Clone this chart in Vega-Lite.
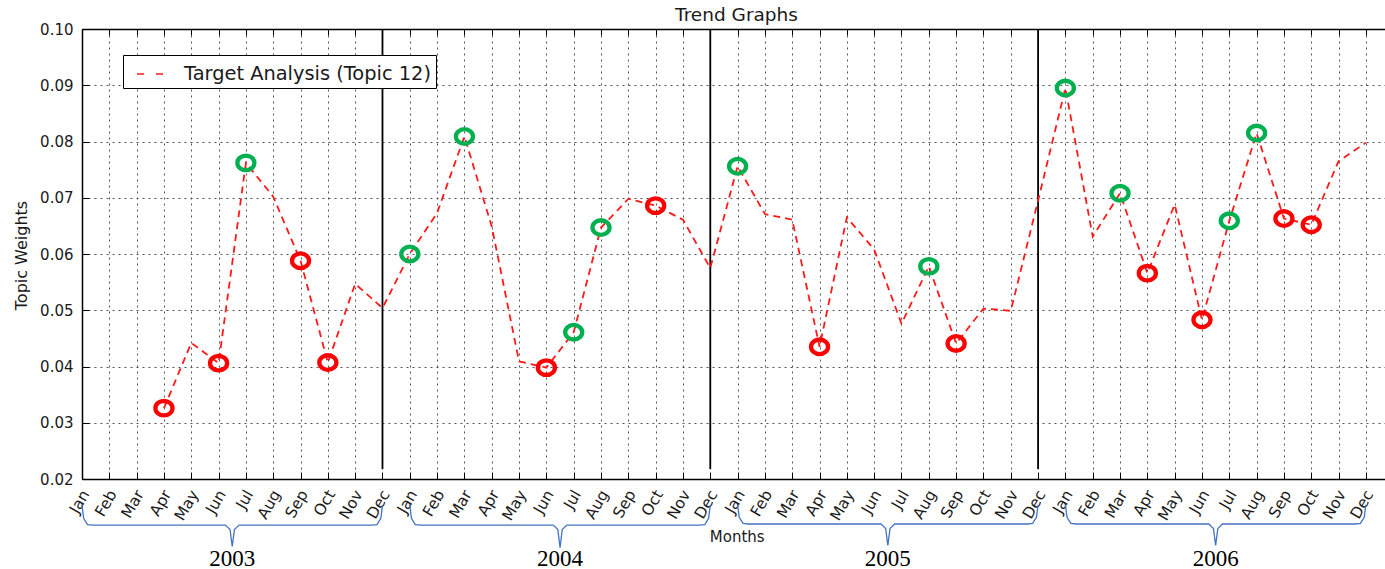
{
  "$schema": "https://vega.github.io/schema/vega-lite/v6.json",
  "width": 1303,
  "height": 450,
  "autosize": {"type": "none"},
  "padding": {"left": 82, "top": 29, "right": 0, "bottom": 90},
  "background": "white",
  "title": {"text": "Trend Graphs", "fontSize": 18.5, "font": "DejaVu Sans", "fontWeight": "normal", "color": "#1a1a1a", "offset": -21, "baseline": "bottom", "anchor": "middle", "frame": "group", "dx": 3},
  "config": {"view": {"stroke": null}, "font": "DejaVu Sans"},
  "datasets": {
    "trend": [
      {"i": 3, "month": "Apr", "year": 2003, "weight": 0.0326, "ring": "red"},
      {"i": 4, "month": "May", "year": 2003, "weight": 0.0442, "ring": "none"},
      {"i": 5, "month": "Jun", "year": 2003, "weight": 0.0406, "ring": "red"},
      {"i": 6, "month": "Jul", "year": 2003, "weight": 0.0762, "ring": "green"},
      {"i": 7, "month": "Aug", "year": 2003, "weight": 0.0702, "ring": "none"},
      {"i": 8, "month": "Sep", "year": 2003, "weight": 0.0588, "ring": "red"},
      {"i": 9, "month": "Oct", "year": 2003, "weight": 0.0407, "ring": "red"},
      {"i": 10, "month": "Nov", "year": 2003, "weight": 0.0547, "ring": "none"},
      {"i": 11, "month": "Dec", "year": 2003, "weight": 0.0504, "ring": "none"},
      {"i": 12, "month": "Jan", "year": 2004, "weight": 0.0600, "ring": "green"},
      {"i": 13, "month": "Feb", "year": 2004, "weight": 0.0673, "ring": "none"},
      {"i": 14, "month": "Mar", "year": 2004, "weight": 0.0809, "ring": "green"},
      {"i": 15, "month": "Apr", "year": 2004, "weight": 0.0649, "ring": "none"},
      {"i": 16, "month": "May", "year": 2004, "weight": 0.0409, "ring": "none"},
      {"i": 17, "month": "Jun", "year": 2004, "weight": 0.0398, "ring": "red"},
      {"i": 18, "month": "Jul", "year": 2004, "weight": 0.0461, "ring": "green"},
      {"i": 19, "month": "Aug", "year": 2004, "weight": 0.0647, "ring": "green"},
      {"i": 20, "month": "Sep", "year": 2004, "weight": 0.0698, "ring": "none"},
      {"i": 21, "month": "Oct", "year": 2004, "weight": 0.0686, "ring": "red"},
      {"i": 22, "month": "Nov", "year": 2004, "weight": 0.0661, "ring": "none"},
      {"i": 23, "month": "Dec", "year": 2004, "weight": 0.0575, "ring": "none"},
      {"i": 24, "month": "Jan", "year": 2005, "weight": 0.0756, "ring": "green"},
      {"i": 25, "month": "Feb", "year": 2005, "weight": 0.0671, "ring": "none"},
      {"i": 26, "month": "Mar", "year": 2005, "weight": 0.0661, "ring": "none"},
      {"i": 27, "month": "Apr", "year": 2005, "weight": 0.0435, "ring": "red"},
      {"i": 28, "month": "May", "year": 2005, "weight": 0.0665, "ring": "none"},
      {"i": 29, "month": "Jun", "year": 2005, "weight": 0.0608, "ring": "none"},
      {"i": 30, "month": "Jul", "year": 2005, "weight": 0.0476, "ring": "none"},
      {"i": 31, "month": "Aug", "year": 2005, "weight": 0.0578, "ring": "green"},
      {"i": 32, "month": "Sep", "year": 2005, "weight": 0.0441, "ring": "red"},
      {"i": 33, "month": "Oct", "year": 2005, "weight": 0.0503, "ring": "none"},
      {"i": 34, "month": "Nov", "year": 2005, "weight": 0.0499, "ring": "none"},
      {"i": 35, "month": "Dec", "year": 2005, "weight": 0.0695, "ring": "none"},
      {"i": 36, "month": "Jan", "year": 2006, "weight": 0.0895, "ring": "green"},
      {"i": 37, "month": "Feb", "year": 2006, "weight": 0.0631, "ring": "none"},
      {"i": 38, "month": "Mar", "year": 2006, "weight": 0.0708, "ring": "green"},
      {"i": 39, "month": "Apr", "year": 2006, "weight": 0.0566, "ring": "red"},
      {"i": 40, "month": "May", "year": 2006, "weight": 0.0688, "ring": "none"},
      {"i": 41, "month": "Jun", "year": 2006, "weight": 0.0483, "ring": "red"},
      {"i": 42, "month": "Jul", "year": 2006, "weight": 0.0659, "ring": "green"},
      {"i": 43, "month": "Aug", "year": 2006, "weight": 0.0815, "ring": "green"},
      {"i": 44, "month": "Sep", "year": 2006, "weight": 0.0663, "ring": "red"},
      {"i": 45, "month": "Oct", "year": 2006, "weight": 0.0652, "ring": "red"},
      {"i": 46, "month": "Nov", "year": 2006, "weight": 0.0765, "ring": "none"},
      {"i": 47, "month": "Dec", "year": 2006, "weight": 0.0798, "ring": "none"}
    ],
    "dividers": [{"i": 11}, {"i": 23}, {"i": 35}],
    "years": [
      {"year": "2003", "mid": 5.5},
      {"year": "2004", "mid": 17.5},
      {"year": "2005", "mid": 29.5},
      {"year": "2006", "mid": 41.5}
    ],
    "braces": [
      {"year": "2003", "x": 0, "y": 0.0154}, {"year": "2003", "x": 0.06, "y": 0.0130}, {"year": "2003", "x": 0.2, "y": 0.0119}, {"year": "2003", "x": 0.4, "y": 0.0118},
      {"year": "2003", "x": 5.25, "y": 0.0118}, {"year": "2003", "x": 5.42, "y": 0.0110}, {"year": "2003", "x": 5.5, "y": 0.0080}, {"year": "2003", "x": 5.58, "y": 0.0110}, {"year": "2003", "x": 5.75, "y": 0.0118},
      {"year": "2003", "x": 10.6, "y": 0.0118}, {"year": "2003", "x": 10.8, "y": 0.0119}, {"year": "2003", "x": 10.94, "y": 0.0130}, {"year": "2003", "x": 11, "y": 0.0154},
      {"year": "2004", "x": 12, "y": 0.0154}, {"year": "2004", "x": 12.06, "y": 0.0130}, {"year": "2004", "x": 12.2, "y": 0.0119}, {"year": "2004", "x": 12.4, "y": 0.0118},
      {"year": "2004", "x": 17.25, "y": 0.0118}, {"year": "2004", "x": 17.42, "y": 0.0110}, {"year": "2004", "x": 17.5, "y": 0.0078}, {"year": "2004", "x": 17.58, "y": 0.0110}, {"year": "2004", "x": 17.75, "y": 0.0118},
      {"year": "2004", "x": 22.6, "y": 0.0118}, {"year": "2004", "x": 22.8, "y": 0.0119}, {"year": "2004", "x": 22.94, "y": 0.0130}, {"year": "2004", "x": 23, "y": 0.0154},
      {"year": "2005", "x": 24, "y": 0.0154}, {"year": "2005", "x": 24.06, "y": 0.0132}, {"year": "2005", "x": 24.2, "y": 0.0121}, {"year": "2005", "x": 24.4, "y": 0.0120},
      {"year": "2005", "x": 29.25, "y": 0.0120}, {"year": "2005", "x": 29.42, "y": 0.0112}, {"year": "2005", "x": 29.5, "y": 0.0082}, {"year": "2005", "x": 29.58, "y": 0.0112}, {"year": "2005", "x": 29.75, "y": 0.0120},
      {"year": "2005", "x": 34.6, "y": 0.0120}, {"year": "2005", "x": 34.8, "y": 0.0121}, {"year": "2005", "x": 34.94, "y": 0.0132}, {"year": "2005", "x": 35, "y": 0.0154},
      {"year": "2006", "x": 36, "y": 0.0154}, {"year": "2006", "x": 36.06, "y": 0.0132}, {"year": "2006", "x": 36.2, "y": 0.0121}, {"year": "2006", "x": 36.4, "y": 0.0120},
      {"year": "2006", "x": 41.25, "y": 0.0120}, {"year": "2006", "x": 41.42, "y": 0.0112}, {"year": "2006", "x": 41.5, "y": 0.0082}, {"year": "2006", "x": 41.58, "y": 0.0112}, {"year": "2006", "x": 41.75, "y": 0.0120},
      {"year": "2006", "x": 46.6, "y": 0.0120}, {"year": "2006", "x": 46.8, "y": 0.0121}, {"year": "2006", "x": 46.94, "y": 0.0132}, {"year": "2006", "x": 47, "y": 0.0154}
    ]
  },
  "resolve": {"axis": {"x": "independent", "y": "independent"}},
  "layer": [
    {
      "data": {"name": "dividers"},
      "mark": {"type": "rule", "color": "black", "strokeWidth": 1.8},
      "encoding": {
        "x": {"field": "i", "type": "quantitative", "scale": {"domain": [0, 47.7], "nice": false, "zero": false},
          "axis": {"orient": "top", "values": [0,1,2,3,4,5,6,7,8,9,10,11,12,13,14,15,16,17,18,19,20,21,22,23,24,25,26,27,28,29,30,31,32,33,34,35,36,37,38,39,40,41,42,43,44,45,46,47],
            "labels": false, "title": null, "grid": false, "ticks": true, "tickSize": -6, "tickColor": "black", "tickWidth": 1,
            "domain": true, "domainColor": "black", "domainWidth": 1.5}},
        "y": {"datum": 0.1, "type": "quantitative", "scale": {"domain": [0.02, 0.1], "nice": false, "zero": false},
          "axis": {"orient": "right", "labels": false, "ticks": false, "domain": false, "grid": false, "title": null}},
        "y2": {"datum": 0.0218}
      }
    },
    {
      "data": {"name": "trend"},
      "transform": [{"calculate": "'Target Analysis (Topic 12)'", "as": "series"}],
      "mark": {"type": "line", "strokeDash": [7, 5], "strokeWidth": 1.8},
      "encoding": {
        "x": {"field": "i", "type": "quantitative", "scale": {"domain": [0, 47.7], "nice": false, "zero": false},
          "axis": {"orient": "bottom", "values": [0,1,2,3,4,5,6,7,8,9,10,11,12,13,14,15,16,17,18,19,20,21,22,23,24,25,26,27,28,29,30,31,32,33,34,35,36,37,38,39,40,41,42,43,44,45,46,47],
            "labelExpr": "['Jan','Feb','Mar','Apr','May','Jun','Jul','Aug','Sep','Oct','Nov','Dec'][datum.value % 12]",
            "labelAngle": -60, "labelAlign": "right", "labelBaseline": "middle", "labelFontSize": 15.5, "labelFont": "DejaVu Sans", "labelColor": "#1a1a1a",
            "labelPadding": 19, "labelOffset": 3, "labelOverlap": false, "labelFlush": false, "labelBound": false,
            "tickSize": -7, "tickColor": "black", "tickWidth": 1,
            "domain": true, "domainColor": "black", "domainWidth": 1.5,
            "grid": true, "gridColor": "#555555", "gridDash": [2, 4], "gridWidth": 1,
            "title": "Months", "titleFontSize": 15, "titleFont": "DejaVu Sans", "titleFontWeight": "normal", "titleColor": "#1a1a1a",
            "titleX": 654.7, "titleY": 57.5, "titleAlign": "center", "titleBaseline": "middle"}},
        "y": {"field": "weight", "type": "quantitative", "scale": {"domain": [0.02, 0.1], "nice": false, "zero": false},
          "axis": {"orient": "left", "values": [0.02, 0.03, 0.04, 0.05, 0.06, 0.07, 0.08, 0.09, 0.1], "format": ".2f",
            "labelFontSize": 15, "labelFont": "DejaVu Sans", "labelColor": "#1a1a1a", "labelPadding": 16, "labelFlush": false, "labelOverlap": false,
            "tickSize": -7, "tickColor": "black", "tickWidth": 1,
            "domain": true, "domainColor": "black", "domainWidth": 1.5,
            "grid": true, "gridColor": "#555555", "gridDash": [2, 4], "gridWidth": 1,
            "title": "Topic Weights", "titleFontSize": 16, "titleFont": "DejaVu Sans", "titleFontWeight": "normal", "titleColor": "#1a1a1a",
            "titleX": -60.3, "titleY": 226, "titleAngle": -90, "titleAlign": "center", "titleBaseline": "middle"}},
        "stroke": {"field": "series", "type": "nominal", "scale": {"range": ["#ff1a1a"]},
          "legend": {"orient": "none", "legendX": 41, "legendY": 26, "title": null, "symbolType": "stroke", "symbolSize": 729,
            "symbolStrokeWidth": 1.7, "symbolDash": [7, 12], "symbolOffset": 8.5, "labelOffset": 19,
            "labelFontSize": 19.4, "labelFont": "DejaVu Sans", "labelColor": "#1a1a1a", "labelLimit": 400,
            "padding": 4.5, "strokeColor": "black", "fillColor": "white", "cornerRadius": 0}}
      }
    },
    {
      "data": {"name": "trend"},
      "transform": [{"filter": "datum.ring != 'none'"}],
      "mark": {"type": "point", "filled": false, "strokeWidth": 4.3, "size": 290, "opacity": 1, "shape": "M-1,0A1,0.86 0 1,0 1,0A1,0.86 0 1,0 -1,0Z"},
      "encoding": {
        "x": {"field": "i", "type": "quantitative", "scale": {"domain": [0, 47.7], "nice": false, "zero": false}, "axis": null},
        "y": {"field": "weight", "type": "quantitative", "scale": {"domain": [0.02, 0.1], "nice": false, "zero": false}, "axis": null},
        "color": {"field": "ring", "type": "nominal", "scale": {"domain": ["green", "red"], "range": ["#00b050", "#ff0000"]}, "legend": null}
      }
    },
    {
      "data": {"name": "braces"},
      "mark": {"type": "line", "color": "#4472c4", "strokeWidth": 1.3, "clip": false},
      "encoding": {
        "x": {"field": "x", "type": "quantitative", "scale": {"domain": [0, 47.7], "nice": false, "zero": false}, "axis": null},
        "y": {"field": "y", "type": "quantitative", "scale": {"domain": [0.02, 0.1], "nice": false, "zero": false}, "axis": null},
        "detail": {"field": "year", "type": "nominal"}
      }
    },
    {
      "data": {"name": "years"},
      "mark": {"type": "text", "font": "Liberation Serif", "fontSize": 23, "baseline": "alphabetic", "align": "center", "color": "black"},
      "encoding": {
        "x": {"field": "mid", "type": "quantitative", "scale": {"domain": [0, 47.7], "nice": false, "zero": false}, "axis": null},
        "y": {"datum": 0.0046, "type": "quantitative", "scale": {"domain": [0.02, 0.1], "nice": false, "zero": false}, "axis": null},
        "text": {"field": "year"}
      }
    }
  ]
}
